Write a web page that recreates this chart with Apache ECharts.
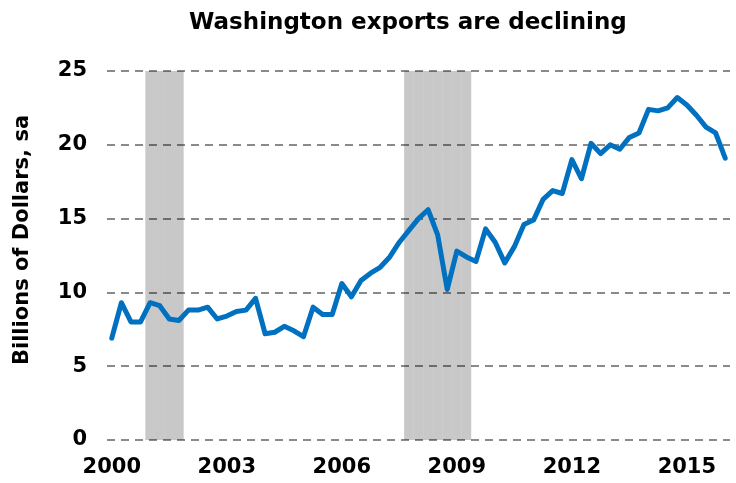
<!DOCTYPE html>
<html>
<head>
<meta charset="utf-8">
<script src="https://cdn.jsdelivr.net/npm/echarts@6/dist/echarts.min.js"></script>
<style>
  html, body { margin: 0; padding: 0; background: #fff; }
  #chart { width: 736px; height: 483px; }
</style>
</head>
<body>
<div id="chart"></div>
<script>
// quarterly Washington exports, billions of dollars, sa (2000Q1 - 2016Q1)
var exportsValues = [
  6.9, 9.3, 8.0, 8.0, 9.3, 9.1, 8.2, 8.1, 8.8, 8.8, 9.0, 8.2,
  8.4, 8.7, 8.8, 9.6, 7.2, 7.3, 7.7, 7.4, 7.0, 9.0, 8.5, 8.5,
  10.6, 9.7, 10.8, 11.3, 11.7, 12.4, 13.4, 14.2, 15.0, 15.6, 13.9, 10.2,
  12.8, 12.4, 12.1, 14.3, 13.4, 12.0, 13.1, 14.6, 14.9, 16.3, 16.9, 16.7,
  19.0, 17.7, 20.1, 19.4, 20.0, 19.7, 20.5, 20.8, 22.4, 22.3, 22.5, 23.2,
  22.7, 22.0, 21.2, 20.8, 19.1
];
var firstYear = 2000;
// recession periods (first and last quarter shaded)
var recessions = [['2001Q1', '2001Q4'], ['2007Q4', '2009Q2']];
var yTicks = [0, 5, 10, 15, 20, 25];

var quarters = [];
for (var i = 0; i < exportsValues.length; i++) {
  quarters.push((firstYear + Math.floor(i / 4)) + 'Q' + (i % 4 + 1));
}

// shade bars built from the recession list
var shade = quarters.map(function (q) {
  for (var r = 0; r < recessions.length; r++) {
    if (q >= recessions[r][0] && q <= recessions[r][1]) return yTicks[yTicks.length - 1];
  }
  return '-';
});

var font = 'DejaVu Sans, Verdana, sans-serif';
var chart = echarts.init(document.getElementById('chart'));

chart.setOption({
  animation: false,
  title: {
    text: 'Washington exports are declining',
    left: 184,
    top: 7,
    textStyle: { fontFamily: font, fontWeight: 'bold', fontSize: 23, color: '#000' }
  },
  grid: { left: 107, right: 6, top: 71, bottom: 43 },
  graphic: [{
    type: 'text',
    x: 23,
    y: 240,
    rotation: Math.PI / 2,
    style: {
      text: 'Billions of Dollars, sa',
      font: 'bold 21px ' + font,
      fill: '#000',
      align: 'center',
      verticalAlign: 'middle'
    }
  }],
  xAxis: {
    type: 'category',
    data: quarters,
    boundaryGap: true,
    axisLine: { show: false },
    axisTick: { show: false },
    axisLabel: {
      interval: function (idx) { return idx % 12 === 0; },
      formatter: function (v) { return v.slice(0, 4); },
      margin: 17,
      fontFamily: font,
      fontWeight: 'bold',
      fontSize: 21,
      color: '#000'
    },
    splitLine: { show: false }
  },
  yAxis: {
    type: 'value',
    min: yTicks[0],
    max: yTicks[yTicks.length - 1],
    interval: 5,
    axisLine: { show: false },
    axisTick: { show: false },
    axisLabel: {
      margin: 20,
      fontFamily: font,
      fontWeight: 'bold',
      fontSize: 21,
      color: '#000'
    },
    splitLine: {
      lineStyle: { color: '#8a8a8a', width: 2, type: [8, 6] }
    }
  },
  series: [
    {
      name: 'Recession',
      type: 'bar',
      data: shade,
      barCategoryGap: '0%',
      barWidth: '100%',
      itemStyle: { color: 'rgba(0,0,0,0.215)' },
      silent: true,
      z: 2
    },
    {
      name: 'Exports',
      type: 'line',
      data: exportsValues,
      symbol: 'none',
      lineStyle: { color: '#0070c0', width: 5, cap: 'round', join: 'round' },
      z: 3
    }
  ]
});
</script>
</body>
</html>
